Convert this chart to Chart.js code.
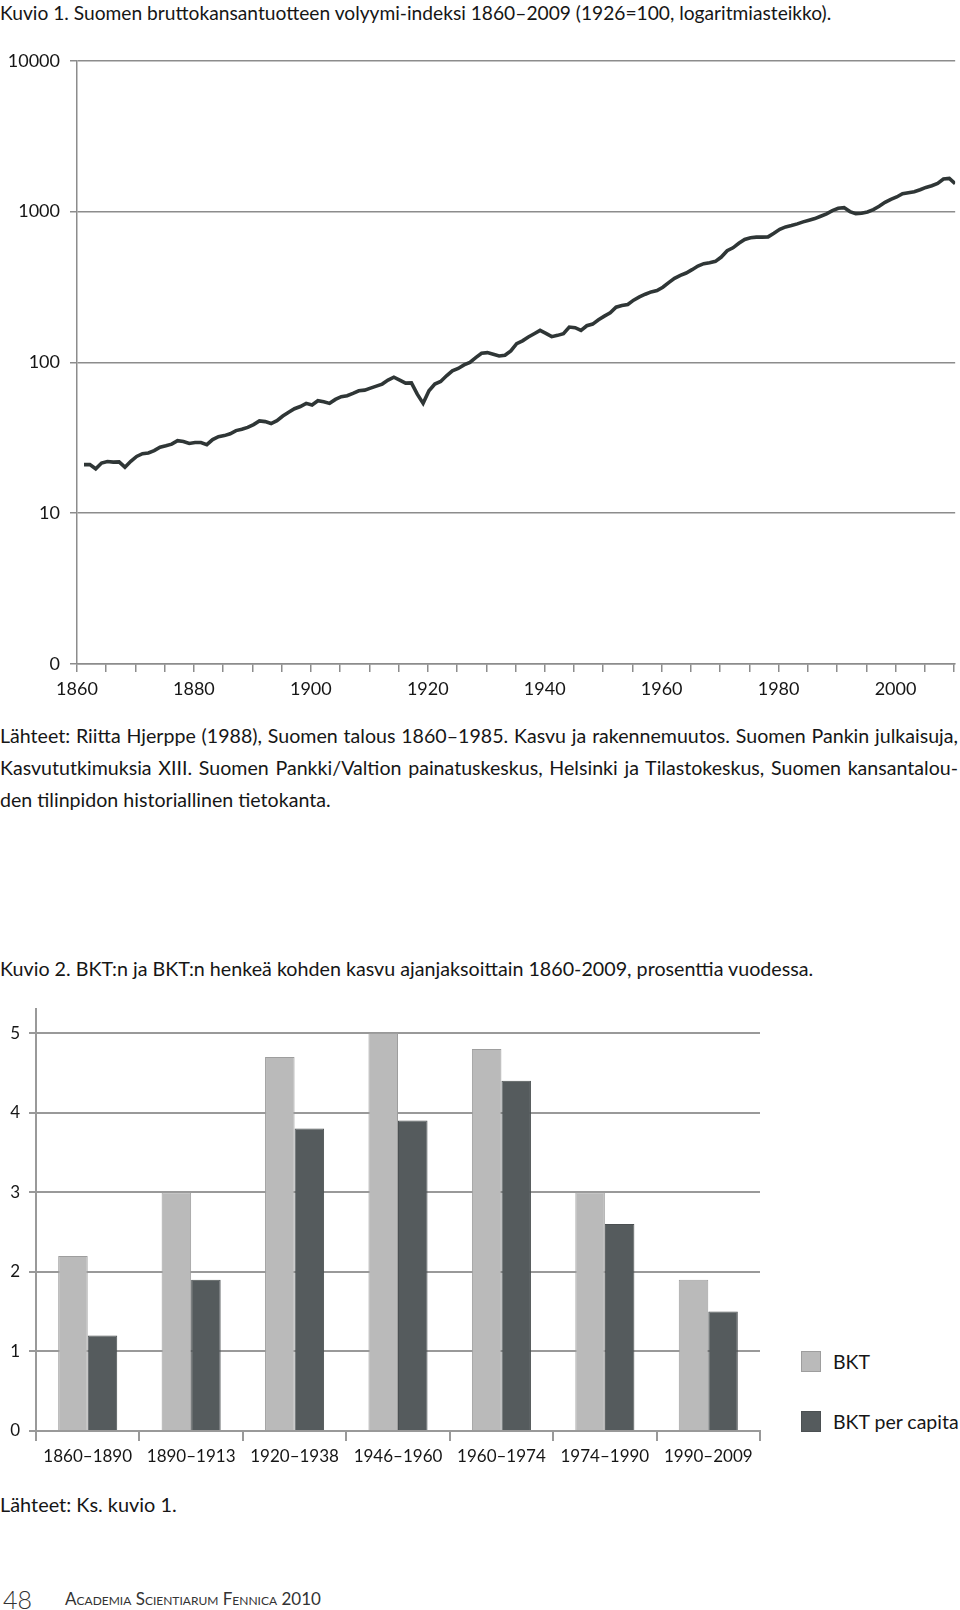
<!DOCTYPE html>
<html lang="fi">
<head>
<meta charset="utf-8">
<title>Kuvio 1 ja 2</title>
<script src="https://cdn.jsdelivr.net/npm/chart.js@4.4.1/dist/chart.umd.min.js"></script>
<style>
  html, body { margin: 0; padding: 0; background: #fff; }
  body {
    width: 960px; height: 1610px; position: relative; overflow: hidden;
    font-family: Lato, "Open Sans", sans-serif; color: #161616;
  }
  .txt { position: absolute; left: 0; font-size: 19.6px; line-height: 32px; white-space: nowrap; }
  .just { width: 958px; white-space: normal; text-align: justify; text-align-last: justify; }
  .box { position: absolute; }
  #legend2 { position: absolute; left: 801px; top: 1331px; font-size: 19.5px; }
  #legend2 .item { display: flex; align-items: center; height: 60px; }
  #legend2 .sw { width: 20px; height: 21px; box-sizing: border-box; border: 1px solid; margin-right: 12px; }
  #footer { position: absolute; left: 0; top: 1586px; height: 26px; line-height: 26px; color: #333; }
  #footer .num { position: absolute; left: 3px; font-size: 25px; font-weight: 300; }
  #footer .pub { position: absolute; left: 65px; font-size: 17px; font-variant: small-caps; white-space: nowrap; }
</style>
</head>
<body>

<div class="txt" style="top:0; line-height:26px; font-size:19.2px;">Kuvio 1. Suomen bruttokansantuotteen volyymi-indeksi 1860–2009 (1926=100, logaritmiasteikko).</div>

<div class="box" style="left:0; top:40px; width:960px; height:660px;">
  <canvas id="chart1"></canvas>
</div>

<div class="txt just" style="top:720px;">Lähteet: Riitta Hjerppe (1988), Suomen talous 1860–1985. Kasvu ja rakennemuutos. Suomen Pankin julkaisuja,</div>
<div class="txt just" style="top:752px;">Kasvututkimuksia XIII. Suomen Pankki/Valtion painatuskeskus, Helsinki ja Tilastokeskus, Suomen kansantalou-</div>
<div class="txt" style="top:784px;">den tilinpidon historiallinen tietokanta.</div>

<div class="txt" style="top:953px; font-size:19.7px;">Kuvio 2. BKT:n ja BKT:n henkeä kohden kasvu ajanjaksoittain 1860-2009, prosenttia vuodessa.</div>

<div class="box" style="left:0; top:990px; width:780px; height:490px;">
  <canvas id="chart2"></canvas>
</div>
<div id="legend2"></div>

<div class="txt" style="top:1488px; font-size:19.9px;">Lähteet: Ks. kuvio 1.</div>

<div id="footer"><span class="num">48</span><span class="pub">Academia Scientiarum Fennica 2010</span></div>

<script>
// ---- Kuvio 1: BKT volyymi-indeksi, 1926 = 100 ----
const firstYear = 1860;
const gdpIndex = [
  // 1860-1869
  21.0, 21.0, 19.7, 21.5, 22.0, 21.8, 21.9, 20.2, 22.1, 23.8,
  // 1870-1879
  24.8, 25.1, 26.0, 27.4, 28.0, 28.7, 30.3, 29.9, 29.0, 29.4,
  // 1880-1889
  29.4, 28.5, 30.8, 32.2, 32.7, 33.6, 35.3, 36.0, 37.1, 38.7,
  // 1890-1899
  40.9, 40.5, 39.3, 41.1, 44.1, 46.7, 49.3, 51.0, 53.5, 52.2,
  // 1900-1909
  55.7, 54.9, 53.5, 56.8, 59.2, 60.1, 62.3, 64.8, 65.5, 67.5,
  // 1910-1919
  69.6, 71.8, 76.3, 79.8, 76.3, 72.9, 73.2, 61.6, 53.5, 64.8,
  // 1920-1929
  71.8, 74.7, 81.5, 87.9, 91.1, 96.3, 100, 107.6, 114.9, 116.1,
  // 1930-1939
  113.2, 110.4, 111.5, 119.1, 133.1, 139, 147.3, 155.0, 163.1, 155.8,
  // 1940-1949
  148.1, 151.1, 155, 171.6, 169.8, 163.1, 175.0, 179.5, 191.7, 202.7,
  // 1950-1959
  213.3, 232.4, 238.4, 242.1, 258.6, 271.9, 283.2, 293.5, 299.5, 315.0,
  // 1960-1969
  338.2, 361.2, 378.1, 391.6, 412.1, 435.6, 451.4, 458.3, 467.7, 499.4,
  // 1970-1979
  550, 575, 616, 653, 670, 677, 677, 680, 719, 764,
  // 1980-1989
  792, 808, 829, 855, 876, 899, 931, 965, 1015, 1052,
  // 1990-1999
  1063, 1000, 970, 975, 995, 1031, 1084, 1152, 1206, 1250,
  // 2000-2009
  1315, 1335, 1355, 1397, 1447, 1485, 1538, 1643, 1660, 1530
];
const xTickLabels1 = ['1860', '1880', '1900', '1920', '1940', '1960', '1980', '2000'];
const yTickValues1 = [1, 10, 100, 1000, 10000];
const yTickLabels1 = ['0', '10', '100', '1000', '10000'];

// ---- Kuvio 2: kasvu ajanjaksoittain, % vuodessa ----
const periods = ['1860–1890', '1890–1913', '1920–1938', '1946–1960', '1960–1974', '1974–1990', '1990–2009'];
const bkt = [2.2, 3.0, 4.7, 5.0, 4.8, 3.0, 1.9];
const bktPerCapita = [1.2, 1.9, 3.8, 3.9, 4.4, 2.6, 1.5];
const yTickValues2 = [0, 1, 2, 3, 4, 5];

const tickFont = { family: 'Lato, "Open Sans", sans-serif', size: 18 };
const textColor = '#161616';

// points of the line as {x: year, y: index}
const linePoints = gdpIndex.map((v, i) => ({ x: firstYear + i, y: v }));

// year axis: tick marks every 5 years
const tickYears = [];
for (let y = 1860; y <= 2010; y += 5) tickYears.push(y);

new Chart(document.getElementById('chart1'), {
  type: 'line',
  data: {
    datasets: [{
      label: 'BKT volyymi-indeksi',
      data: linePoints,
      xAxisID: 'x',
      borderColor: '#2f3636',
      borderWidth: 3.6,
      pointRadius: 0,
      tension: 0,
      fill: false
    }]
  },
  options: {
    animation: false,
    responsive: true,
    maintainAspectRatio: false,
    layout: { padding: { top: 18.5, right: 3, left: 0, bottom: 0 } },
    plugins: { legend: { display: false }, tooltip: { enabled: false } },
    scales: {
      x: { type: 'linear', min: 1858.8, max: 2009, display: false },
      years: {
        type: 'linear',
        position: 'bottom',
        min: 1860,
        max: 2010.2,
        afterBuildTicks: s => { s.ticks = tickYears.map(v => ({ value: v })); },
        afterFit: s => { s.height = 36; },
        ticks: {
          autoSkip: false,
          maxRotation: 0,
          padding: 6,
          color: textColor,
          font: tickFont,
          callback: v => xTickLabels1.includes(String(v)) ? String(v) : ''
        },
        grid: { drawOnChartArea: false, tickLength: 8, color: '#8c8c8c', lineWidth: 1.5 },
        border: { color: '#8c8c8c', width: 1.5 }
      },
      y: {
        type: 'logarithmic',
        min: 1,
        max: 10000,
        afterBuildTicks: s => { s.ticks = yTickValues1.map(v => ({ value: v })); },
        afterFit: s => { s.width = 77; },
        ticks: {
          padding: 10,
          color: textColor,
          font: tickFont,
          callback: v => yTickLabels1[yTickValues1.indexOf(v)]
        },
        grid: { tickLength: 7, color: '#8c8c8c', lineWidth: 1.5 },
        border: { color: '#8c8c8c', width: 1.5 }
      }
    }
  }
});

const chart2 = new Chart(document.getElementById('chart2'), {
  type: 'bar',
  data: {
    labels: periods,
    datasets: [
      { label: 'BKT', data: bkt, backgroundColor: '#bababa', borderColor: '#9e9e9e', borderWidth: 1 },
      { label: 'BKT per capita', data: bktPerCapita, backgroundColor: '#555b5d', borderColor: '#4b5052', borderWidth: 1 }
    ]
  },
  options: {
    animation: false,
    responsive: true,
    maintainAspectRatio: false,
    datasets: { bar: { categoryPercentage: 0.571, barPercentage: 1.0 } },
    layout: { padding: { top: 16, right: 20, left: 0, bottom: 0 } },
    plugins: { legend: { display: false }, tooltip: { enabled: false } },
    scales: {
      x: {
        afterFit: s => { s.height = 49; },
        ticks: { padding: 5, maxRotation: 0, autoSkip: false, color: textColor, font: { ...tickFont, size: 17 } },
        grid: { offset: true, drawOnChartArea: false, tickLength: 10, color: '#999', lineWidth: 2 },
        border: { color: '#999', width: 2 }
      },
      y: {
        min: 0,
        max: 5.3,
        afterBuildTicks: s => { s.ticks = yTickValues2.map(v => ({ value: v })); },
        afterFit: s => { s.width = 36; },
        ticks: { padding: 9, color: textColor, font: { ...tickFont, size: 17 } },
        grid: { tickLength: 7, color: '#999', lineWidth: 2 },
        border: { color: '#999', width: 2 }
      }
    }
  }
});

// legend on the right, built from the datasets
const legend = document.getElementById('legend2');
chart2.data.datasets.forEach(ds => {
  const item = document.createElement('div');
  item.className = 'item';
  const sw = document.createElement('span');
  sw.className = 'sw';
  sw.style.background = ds.backgroundColor;
  sw.style.borderColor = ds.borderColor;
  const lab = document.createElement('span');
  lab.textContent = ds.label;
  item.appendChild(sw);
  item.appendChild(lab);
  legend.appendChild(item);
});
</script>
</body>
</html>
